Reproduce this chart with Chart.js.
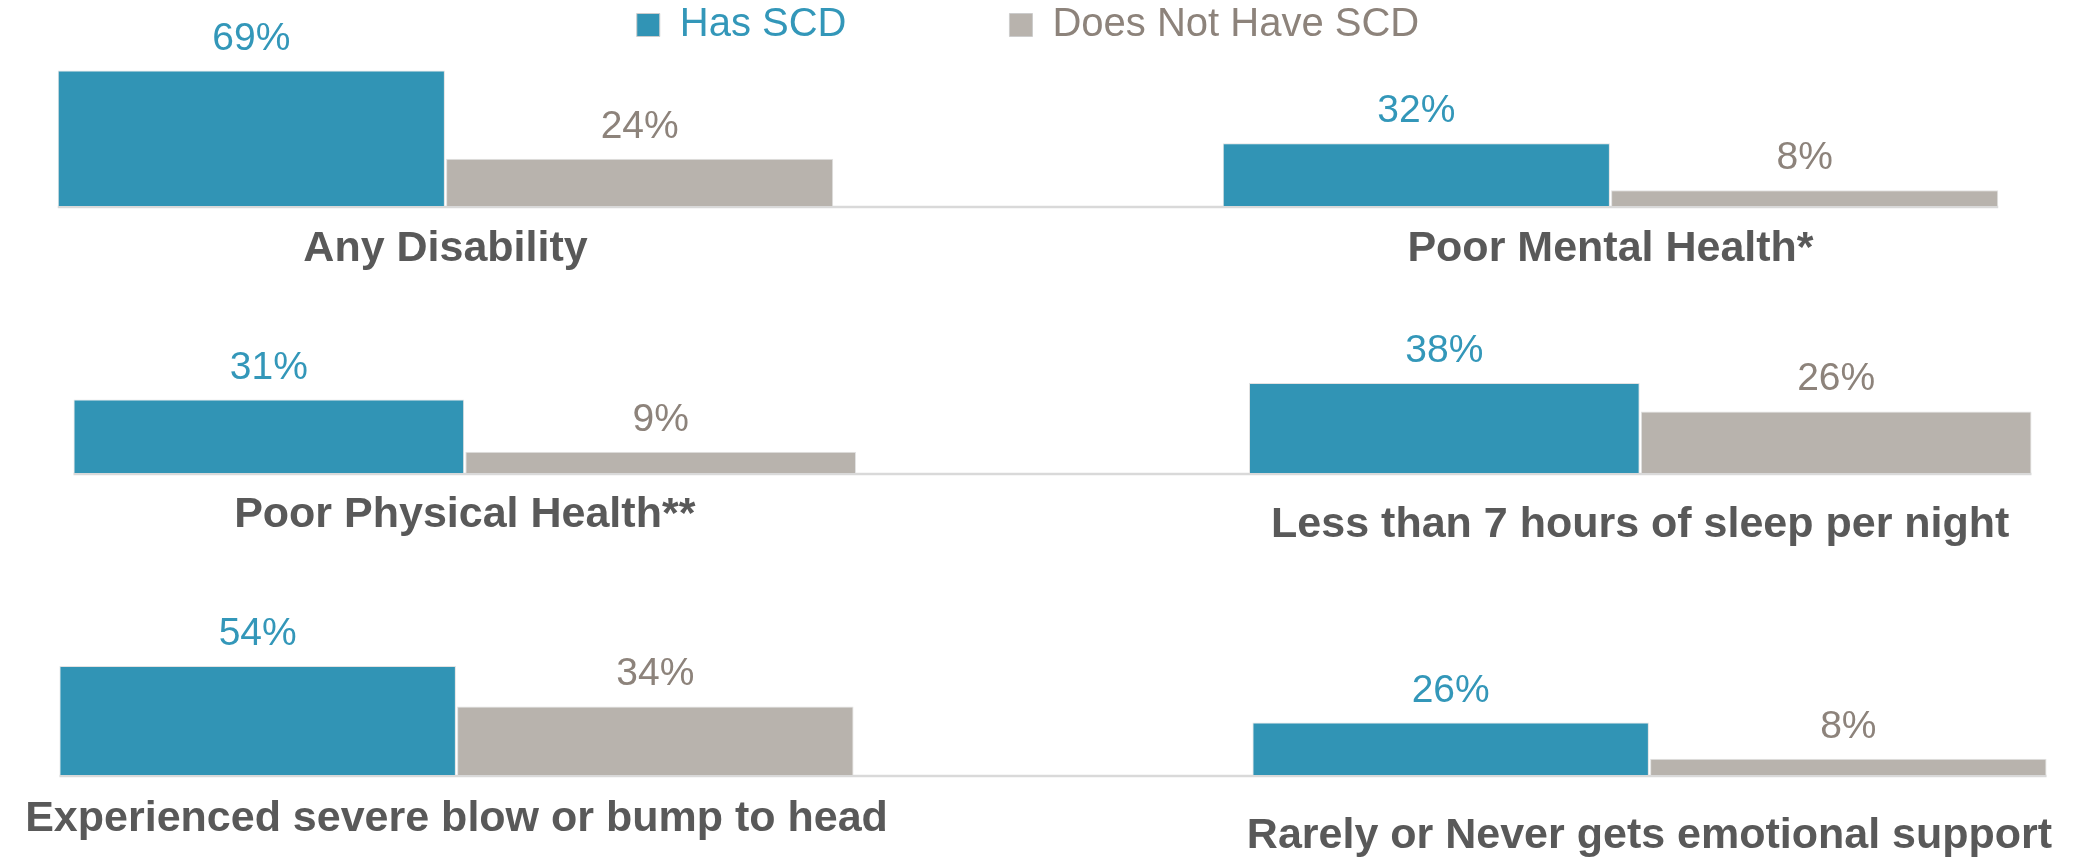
<!DOCTYPE html>
<html>
<head>
<meta charset="utf-8">
<script src="https://cdn.jsdelivr.net/npm/chart.js@4.4.1/dist/chart.umd.min.js"></script>
<style>
  html, body { margin: 0; padding: 0; background: #ffffff; }
  body { width: 2088px; height: 863px; position: relative; overflow: hidden; }
  canvas { position: absolute; }
</style>
</head>
<body>
<canvas id="row1"></canvas>
<canvas id="row2"></canvas>
<canvas id="row3"></canvas>
<script>
// ---- data ----
const seriesNames = ["Has SCD", "Does Not Have SCD"];
const categoriesRow1 = ["Any Disability", "Poor Mental Health*"];
const hasScdRow1 = [69, 32];
const noScdRow1 = [24, 8];
const categoriesRow2 = ["Poor Physical Health**", "Less than 7 hours of sleep per night"];
const hasScdRow2 = [31, 38];
const noScdRow2 = [9, 26];
const categoriesRow3 = ["Experienced severe blow or bump to head", "Rarely or Never gets emotional support"];
const hasScdRow3 = [54, 26];
const noScdRow3 = [34, 8];

// ---- styles ----
const FONT = "'Liberation Sans', Arial, Helvetica, sans-serif";
const barColors = ["#3194b5", "#b8b3ad"];
const textColors = ["#3397b9", "#8d837b"];
const catColor = "#595959";

const valueLabels = {
  id: 'valueLabels',
  afterDatasetsDraw(chart) {
    const ctx = chart.ctx;
    ctx.save();
    ctx.font = "39px " + FONT;
    ctx.textAlign = 'center';
    ctx.textBaseline = 'alphabetic';
    chart.data.datasets.forEach((ds, di) => {
      const meta = chart.getDatasetMeta(di);
      ctx.fillStyle = textColors[di];
      meta.data.forEach((el, i) => {
        ctx.fillText(ds.data[i] + '%', el.x, el.y - 21);
      });
    });
    ctx.restore();
  }
};

const axisLine = {
  id: 'axisLine',
  beforeDatasetsDraw(chart) {
    const metas = chart.data.datasets.map((d, i) => chart.getDatasetMeta(i));
    let minX = Infinity, maxX = -Infinity;
    metas.forEach(m => m.data.forEach(el => {
      minX = Math.min(minX, el.x - el.width / 2);
      maxX = Math.max(maxX, el.x + el.width / 2);
    }));
    const y = chart.scales.y.getPixelForValue(0) + 1;
    const ctx = chart.ctx;
    ctx.save();
    ctx.strokeStyle = '#d9d9d9';
    ctx.lineWidth = 2.5;
    ctx.beginPath();
    ctx.moveTo(minX, y);
    ctx.lineTo(maxX, y);
    ctx.stroke();
    ctx.restore();
  }
};

function makeRow(id, cfg) {
  const el = document.getElementById(id);
  el.width = cfg.width;
  el.height = cfg.height;
  el.style.left = cfg.left + 'px';
  el.style.top = cfg.top + 'px';
  return new Chart(el, {
    type: 'bar',
    data: {
      labels: cfg.labels,
      datasets: [
        { label: seriesNames[0], data: cfg.a, backgroundColor: barColors[0], borderColor: '#e2e2e2', borderWidth: 1, categoryPercentage: 2 / 3, barPercentage: 0.997 },
        { label: seriesNames[1], data: cfg.b, backgroundColor: barColors[1], borderColor: '#e2e2e2', borderWidth: 1, categoryPercentage: 2 / 3, barPercentage: 0.997 }
      ]
    },
    options: {
      responsive: false,
      maintainAspectRatio: false,
      animation: false,
      events: [],
      layout: { padding: 0 },
      plugins: {
        tooltip: { enabled: false },
        legend: {
          display: cfg.legend,
          position: 'top',
          align: 'center',
          labels: {
            font: { size: 40, family: FONT },
            boxWidth: 23,
            boxHeight: 23,
            padding: 163,
            generateLabels: (chart) => chart.data.datasets.map((ds, i) => ({
              text: ds.label,
              fillStyle: barColors[i],
              strokeStyle: '#cccccc',
              lineWidth: 1,
              fontColor: textColors[i],
              datasetIndex: i,
              hidden: false
            }))
          }
        }
      },
      scales: {
        x: {
          type: 'category',
          offset: true,
          grid: { display: false, drawTicks: false },
          border: { display: false },
          ticks: {
            autoSkip: false,
            maxRotation: 0,
            padding: cfg.pad,
            color: catColor,
            font: (c) => ({ size: 43, weight: 'bold', family: FONT, lineHeight: (cfg.lh[c.index] || 51.6) + 'px' })
          },
          afterFit: (s) => { s.height = cfg.axisH; }
        },
        y: { display: false, min: 0, max: cfg.yMax }
      }
    },
    plugins: [axisLine, valueLabels]
  });
}

makeRow('row1', { labels: categoriesRow1, a: hasScdRow1, b: noScdRow1, legend: true,
  left: -137, width: 2330, top: -158, height: 444, axisH: 80, yMax: 76.9, pad: 17, lh: [51.6, 51.6] });
makeRow('row2', { labels: categoriesRow2, a: hasScdRow2, b: noScdRow2, legend: false,
  left: -123, width: 2351, top: 319, height: 234, axisH: 80, yMax: 65, pad: 16, lh: [51.6, 71.6] });
makeRow('row3', { labels: categoriesRow3, a: hasScdRow3, b: noScdRow3, legend: false,
  left: -140, width: 2386, top: 614, height: 249, axisH: 88, yMax: 79.8, pad: 18, lh: [51.6, 86.6] });
</script>
</body>
</html>
